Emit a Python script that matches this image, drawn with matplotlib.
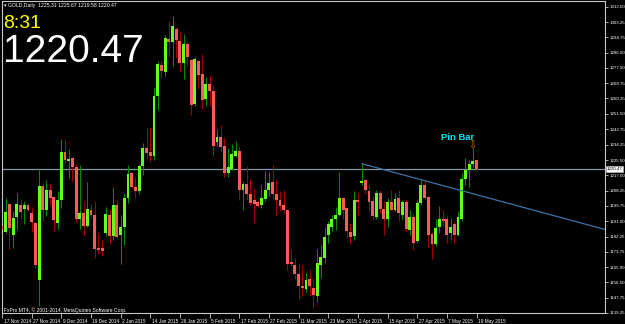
import matplotlib
matplotlib.use("Agg")
import matplotlib.pyplot as plt
import matplotlib.transforms as mtransforms
import numpy as np

# ---------------- data ----------------
opens = [1188.2, 1185.0, 1201.0, 1183.2, 1193.5, 1199.9, 1198.0, 1200.2, 1195.7, 1190.1,
         1157.6, 1211.1, 1197.2, 1208.9, 1204.7, 1190.1, 1202.9, 1230.3, 1224.8, 1226.9,
         1221.6, 1192.5, 1195.4, 1188.6, 1197.6, 1194.8, 1175.9, 1175.7, 1184.5, 1194.8,
         1182.6, 1199.9, 1183.5, 1187.9, 1204.0, 1218.2, 1210.4, 1207.9, 1222.4, 1232.5,
         1230.1, 1227.6, 1261.8, 1279.2, 1275.3, 1293.8, 1292.0, 1299.5, 1292.7, 1280.5,
         1291.0, 1282.0, 1257.3, 1281.5, 1274.1, 1259.9, 1268.5, 1264.2, 1235.5, 1238.3,
         1233.3, 1218.3, 1220.5, 1228.0, 1230.8, 1208.9, 1212.1, 1206.1, 1202.9, 1201.7,
         1200.4, 1203.6, 1208.5, 1213.2, 1206.1, 1203.2, 1199.9, 1197.6, 1167.8, 1166.1,
         1161.4, 1154.5, 1153.0, 1158.2, 1153.5, 1148.8, 1166.3, 1170.4, 1183.0, 1187.9,
         1192.0, 1194.8, 1204.2, 1198.2, 1185.0, 1182.6, 1203.2, 1212.6, 1214.1, 1207.9,
         1202.3, 1193.3, 1207.0, 1198.0, 1192.4, 1202.1, 1197.6, 1204.2, 1194.8, 1202.1,
         1186.0, 1193.5, 1179.8, 1201.4, 1211.7, 1204.6, 1183.9, 1177.9, 1187.9, 1192.4,
         1192.0, 1184.1, 1189.2, 1183.5, 1192.0, 1214.9, 1220.1, 1223.3, 1225.31]
highs = [1189.2, 1204.2, 1201.4, 1196.7, 1207.0, 1203.8, 1202.3, 1200.8, 1199.1, 1190.5,
         1220.5, 1212.6, 1214.5, 1212.6, 1205.1, 1208.3, 1237.6, 1237.4, 1231.8, 1227.3,
         1223.3, 1222.8, 1202.3, 1213.2, 1201.0, 1202.7, 1184.5, 1180.7, 1198.9, 1197.1,
         1210.2, 1203.2, 1194.6, 1207.0, 1222.9, 1218.6, 1216.0, 1223.5, 1235.3, 1243.6,
         1243.9, 1266.1, 1281.5, 1281.1, 1296.1, 1304.2, 1306.8, 1300.8, 1298.0, 1296.7,
         1292.7, 1282.6, 1283.9, 1282.0, 1285.2, 1272.1, 1273.0, 1268.0, 1243.0, 1245.1,
         1237.9, 1232.3, 1234.6, 1236.1, 1233.3, 1213.0, 1222.4, 1214.9, 1209.8, 1203.2,
         1211.7, 1219.2, 1218.6, 1222.9, 1214.5, 1207.9, 1208.9, 1198.0, 1175.1, 1170.4,
         1167.6, 1166.1, 1161.6, 1163.8, 1159.2, 1175.1, 1177.4, 1187.5, 1191.0, 1194.8,
         1199.1, 1218.8, 1204.7, 1198.6, 1190.1, 1208.3, 1207.0, 1223.5, 1214.9, 1211.7,
         1205.5, 1208.9, 1208.9, 1202.3, 1204.2, 1208.5, 1207.0, 1208.9, 1203.2, 1203.6,
         1197.6, 1195.4, 1203.2, 1214.5, 1213.9, 1205.1, 1184.9, 1192.4, 1199.5, 1197.1,
         1194.8, 1192.9, 1190.7, 1196.7, 1218.2, 1226.7, 1225.8, 1232.3, 1225.67]
lows = [1185.4, 1184.1, 1175.1, 1176.0, 1186.0, 1192.4, 1189.7, 1196.7, 1184.9, 1164.8,
        1143.0, 1191.0, 1193.9, 1200.4, 1185.4, 1186.4, 1198.6, 1223.9, 1215.2, 1213.6,
        1190.1, 1186.9, 1183.0, 1187.7, 1192.9, 1170.2, 1172.3, 1171.4, 1182.6, 1178.3,
        1180.7, 1181.7, 1167.0, 1177.5, 1201.4, 1209.8, 1204.0, 1206.1, 1216.9, 1226.3,
        1224.4, 1225.4, 1253.9, 1271.7, 1273.2, 1283.9, 1278.7, 1283.3, 1274.9, 1271.3,
        1278.7, 1251.1, 1255.8, 1265.5, 1254.5, 1255.8, 1255.8, 1227.6, 1233.3, 1230.1,
        1216.0, 1216.0, 1219.8, 1227.3, 1203.2, 1197.1, 1203.2, 1199.9, 1190.1, 1198.9,
        1198.6, 1202.3, 1205.1, 1203.8, 1194.8, 1196.6, 1195.7, 1163.5, 1165.7, 1158.2,
        1147.3, 1148.8, 1151.1, 1148.8, 1142.3, 1145.5, 1159.2, 1167.6, 1178.9, 1185.4,
        1186.0, 1193.9, 1192.0, 1181.7, 1177.9, 1180.4, 1194.2, 1211.7, 1206.6, 1196.7,
        1192.4, 1192.4, 1195.7, 1183.5, 1187.9, 1197.2, 1196.7, 1191.0, 1192.0, 1184.9,
        1183.5, 1174.7, 1178.9, 1200.4, 1203.2, 1176.6, 1169.5, 1177.0, 1184.1, 1187.9,
        1178.5, 1181.1, 1178.9, 1182.6, 1191.0, 1211.7, 1210.2, 1221.6, 1219.58]
closes = [1186.4, 1196.3, 1187.3, 1192.9, 1200.6, 1196.1, 1200.2, 1197.2, 1190.5, 1166.3,
          1211.1, 1197.6, 1208.9, 1204.2, 1191.6, 1202.9, 1230.3, 1225.4, 1226.3, 1221.6,
          1192.4, 1195.7, 1188.6, 1198.0, 1194.8, 1175.3, 1174.7, 1174.2, 1195.2, 1182.6,
          1199.9, 1182.2, 1187.9, 1204.0, 1217.9, 1210.4, 1207.9, 1222.4, 1232.4, 1229.5,
          1227.6, 1261.8, 1279.6, 1275.8, 1294.4, 1292.0, 1301.2, 1293.3, 1280.5, 1291.0,
          1283.5, 1256.3, 1282.6, 1273.6, 1259.5, 1268.5, 1264.2, 1233.3, 1238.3, 1232.9,
          1218.3, 1221.4, 1228.9, 1230.4, 1208.9, 1212.1, 1206.1, 1201.2, 1201.0, 1199.5,
          1204.2, 1208.9, 1212.6, 1206.1, 1202.9, 1199.5, 1197.6, 1166.7, 1166.7, 1161.0,
          1154.5, 1153.2, 1157.8, 1154.5, 1149.2, 1167.2, 1170.8, 1182.0, 1189.2, 1192.5,
          1194.8, 1204.2, 1197.6, 1185.4, 1182.2, 1203.2, 1201.9, 1213.9, 1208.5, 1201.9,
          1194.2, 1207.0, 1198.0, 1192.4, 1202.1, 1197.6, 1203.6, 1195.4, 1202.1, 1186.4,
          1193.5, 1178.9, 1201.4, 1211.7, 1204.2, 1183.5, 1177.9, 1187.3, 1192.4, 1191.0,
          1183.5, 1187.9, 1183.5, 1193.5, 1214.9, 1220.1, 1223.5, 1224.8, 1220.47]

date_labels = ["17 Nov 2014", "27 Nov 2014", "9 Dec 2014", "19 Dec 2014", "2 Jan 2015",
               "14 Jan 2015", "26 Jan 2015", "5 Feb 2015", "17 Feb 2015", "27 Feb 2015",
               "11 Mar 2015", "23 Mar 2015", "2 Apr 2015", "15 Apr 2015", "27 Apr 2015",
               "7 May 2015", "19 May 2015"]
date_label_bars = [0, 8, 16, 24, 32, 40, 48, 56, 64, 72, 80, 88, 96, 104, 112, 120, 128]

price_ticks = [1312.00, 1303.25, 1294.75, 1286.00, 1277.50, 1268.75, 1260.25, 1251.50,
               1242.75, 1234.25, 1225.50, 1217.00, 1208.25, 1199.75, 1191.00, 1182.25,
               1173.75, 1165.00, 1156.50, 1147.75, 1139.25]

trend_anchor_bars = [97, 113]
trend_anchor_prices = [1223.5, 1214.45]

pin_bar_index = 127
symbol = "GOLD,Daily"
clock = "8:31"

# ---------------- figure ----------------
W, H = 625, 324
fig = plt.figure(figsize=(W / 100, H / 100), dpi=100)
fig.patch.set_facecolor("black")

L, R, T, B = 2, 605, 1, 313
ax = fig.add_axes([L / W, (H - B) / H, (R - L) / W, (B - T) / H])
ax.set_facecolor("black")

n = len(opens)
x = np.arange(n)
o = np.array(opens); h = np.array(highs); l = np.array(lows); c = np.array(closes)
up = c >= o

bull_body, bear_body = "#66ff1a", "#ff5a5a"
bull_wick, bear_wick = "#008a00", "#a00000"

ax.vlines(x[up], l[up], h[up], colors=bull_wick, linewidth=0.75, zorder=2)
ax.vlines(x[~up], l[~up], h[~up], colors=bear_wick, linewidth=0.75, zorder=2)
body_lo = np.minimum(o, c)
body_hi = np.maximum(o, c)
height = np.maximum(body_hi - body_lo, 0.45)
ax.bar(x[up], height[up], bottom=body_lo[up], width=0.78, color=bull_body, linewidth=0, zorder=3)
ax.bar(x[~up], height[~up], bottom=body_lo[~up], width=0.78, color=bear_body, linewidth=0, zorder=3)

xmin, xmax = 0.13, 162.66
ax.set_xlim(xmin, xmax)
ax.set_ylim(1139.64, 1315.22)

# bid line
last = closes[-1]
ax.axhline(last, color="#8a93a3", linewidth=0.9, zorder=1)

# trend line (ray)
slope = (trend_anchor_prices[1] - trend_anchor_prices[0]) / (trend_anchor_bars[1] - trend_anchor_bars[0])
tx = np.array([trend_anchor_bars[0], xmax])
ty = trend_anchor_prices[0] + slope * (tx - trend_anchor_bars[0])
ax.plot(tx, ty, color="#3f73a6", linewidth=0.9, zorder=4)

# pin bar annotation
ax.text(pin_bar_index - 4.2, highs[pin_bar_index] + 6.0, "Pin Bar", color="#00e5ee",
        fontsize=6.8, fontweight="bold", family="Liberation Sans", ha="center", va="center", zorder=5)
ax.text(pin_bar_index, highs[pin_bar_index] + 1.3, "\u21e9", color="#d98000",
        fontsize=7, ha="center", va="center", family="DejaVu Sans", zorder=5)

# spines
for s in ax.spines.values():
    s.set_color("#c8c8c8")
    s.set_linewidth(0.8)

# y axis on the right
ax.yaxis.tick_right()
ax.set_yticks(price_ticks)
ax.set_yticklabels([f"{p:.2f}" for p in price_ticks], family="Liberation Sans")
ax.tick_params(axis="y", colors="#c8c8c8", labelcolor="white", labelsize=3.2,
               length=2.2, width=0.6, pad=1.0, direction="out")

# x axis
ax.set_xticks(date_label_bars)
ax.set_xticklabels(date_labels, family="Liberation Sans")
ax.tick_params(axis="x", colors="#c8c8c8", labelcolor="white", labelsize=3.4,
               length=3.5, width=0.6, pad=0.8, direction="out")
for lab in ax.get_xticklabels():
    lab.set_horizontalalignment("left")
    lab.set_transform(lab.get_transform() + mtransforms.ScaledTranslation(1.5 / 100, 0, fig.dpi_scale_trans))

# bid price label on the axis
trans = mtransforms.blended_transform_factory(ax.transAxes, ax.transData)
ax.text(1.003, last, f"{last:.2f}", transform=trans, ha="left", va="center", fontsize=3.2,
        family="Liberation Sans", color="black", zorder=6, clip_on=False,
        bbox=dict(boxstyle="square,pad=0.12", facecolor="white", edgecolor="#c8c8c8", linewidth=0.4))

# header / overlays
fig.text(4 / W, 1 - 5.5 / H, f"\u25be {symbol}  {opens[-1]:.2f} {highs[-1]:.2f} {lows[-1]:.2f} {closes[-1]:.2f}",
         color="white", fontsize=3.7, ha="left", va="center", family=["Liberation Sans", "DejaVu Sans"])
fig.text(3 / W, 1 - 28 / H, clock, color="#ffff00", fontsize=14, ha="left", va="baseline",
         family="Liberation Sans")
fig.text(3 / W, 1 - 62 / H, f"{last:.2f}", color="white", fontsize=28, ha="left", va="baseline",
         family="Liberation Sans")
fig.text(4 / W, 1 - 310 / H, "FxPro MT4, \u00a9 2001-2014, MetaQuotes Software Corp.",
         color="white", fontsize=3.6, ha="left", va="center", family="Liberation Sans")

fig.savefig("out.png", dpi=100, facecolor="black")
